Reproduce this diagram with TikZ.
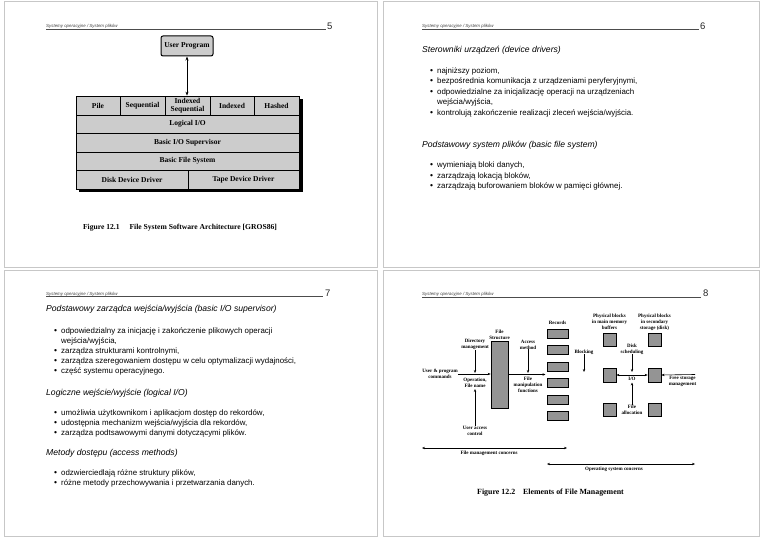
\documentclass[tikz,border=0pt]{standalone}
\usepackage{fontspec}
\setmainfont{Liberation Sans}
\newfontfamily\diagfont{Liberation Serif}
\usetikzlibrary{arrows.meta}
\begin{document}
\begin{tikzpicture}[x=1pt,y=-1pt,
  pageframe/.style={draw=black!22, line width=0.9pt},
  hdrtext/.style={font=\fontsize{4.4}{5}\selectfont\itshape, anchor=base west, inner sep=0, text=black!75},
  hdrline/.style={draw=black!70, line width=0.5pt},
  pagenum/.style={font=\fontsize{9.5}{10}\selectfont, anchor=base west, inner sep=0, text=black!85},
  stitle/.style={font=\fontsize{8.6}{10}\selectfont\itshape, anchor=base west, inner sep=0},
  body/.style={font=\fontsize{7.9}{10}\selectfont, anchor=base west, inner sep=0},
  bul/.style={font=\fontsize{8.5}{9}\selectfont, anchor=base west, inner sep=0},
  cell/.style={draw, fill=black!20, line width=0.7pt, inner sep=0, align=center,
    font=\diagfont\bfseries\fontsize{7.5}{7.8}\selectfont},
  gbox/.style={draw, fill=black!42, line width=0.7pt, inner sep=0},
  lbl/.style={inner sep=0, align=center, font=\diagfont\bfseries\fontsize{5}{6}\selectfont},
  arr/.style={-{Stealth[length=3pt,width=2.4pt]}, line width=0.6pt},
  darr/.style={{Stealth[length=3pt,width=2.4pt]}-{Stealth[length=3pt,width=2.4pt]}, line width=0.6pt},
  caption/.style={inner sep=0, font=\diagfont\bfseries\fontsize{7.6}{8}\selectfont}
]
\useasboundingbox (0,0) rectangle (760,537);
\fill[white] (0,0) rectangle (760,537);
% page frames
\draw[pageframe] (4,1) rectangle (377,267);
\draw[pageframe] (383,1) rectangle (759,267);
\draw[pageframe] (4,270) rectangle (377,536);
\draw[pageframe] (383,270) rectangle (759,536);

% headers
\node[hdrtext] (h5) at (46,28) {Systemy operacyjne / System plików};
\draw[hdrline] (46,29.3) -- (326,29.3);
\node[pagenum] (n5) at (327,29.5) {5};
\node[hdrtext] (h6) at (422,28) {Systemy operacyjne / System plików};
\draw[hdrline] (422,29.3) -- (699,29.3);
\node[pagenum] (n6) at (700,29.5) {6};
\node[hdrtext] (h7) at (46,295) {Systemy operacyjne / System plików};
\draw[hdrline] (46,296.3) -- (323,296.3);
\node[pagenum] (n7) at (325,296.5) {7};
\node[hdrtext] (h8) at (422,295.5) {Systemy operacyjne / System plików};
\draw[hdrline] (422,296.8) -- (701,296.8);
\node[pagenum] (n8) at (703,297) {8};

% ---------- slide 5 ----------
\node[draw, fill=black!20, line width=1pt, rounded corners=2pt, minimum width=52pt, minimum height=20pt, inner sep=0,
  font=\diagfont\bfseries\fontsize{7.5}{8}\selectfont] (up) at (187,46) {User Program};
\fill[black] (79,99) rectangle (302.5,192.5);
\node[cell, minimum width=44pt, minimum height=19pt] (pile) at (98,105.5) {Pile};
\node[cell, minimum width=45pt, minimum height=19pt] (seq) at (142.5,105.5) {Sequential};
\node[cell, minimum width=45pt, minimum height=19pt] (iseq) at (187.5,105.5) {Indexed\\Sequential};
\node[cell, minimum width=44pt, minimum height=19pt] (idx) at (232,105.5) {Indexed};
\node[cell, minimum width=45pt, minimum height=19pt] (hash) at (276.5,105.5) {Hashed};
\node[cell, minimum width=223pt, minimum height=18pt] (lio) at (187.5,124) {Logical I/O};
\node[cell, minimum width=223pt, minimum height=19pt] (bios) at (187.5,142.5) {Basic I/O Supervisor};
\node[cell, minimum width=223pt, minimum height=18pt] (bfs) at (187.5,161) {Basic File System};
\node[cell, minimum width=112pt, minimum height=19pt] (ddd) at (132,179.5) {Disk Device Driver};
\node[cell, minimum width=111pt, minimum height=19pt] (tdd) at (243.5,179.5) {Tape Device Driver};
\draw[{Stealth[length=4pt,width=3pt]}-{Stealth[length=4pt,width=3pt]}, line width=0.7pt] (up.south) -- (up.south |- iseq.north);
\node[caption] (cap5) at (180,228) {Figure 12.1\hspace{1.3em}File System Software Architecture [GROS86]};

% ---------- slide 6 ----------
\node[stitle] (s6t1) at (422,53) {Sterowniki urządzeń (device drivers)};
\node[bul] (s6b1) at (430,73.2) {•};
\node[body] (s6l1) at (437,73.2) {najniższy poziom,};
\node[bul] (s6b2) at (430,83.9) {•};
\node[body] (s6l2) at (437,83.9) {bezpośrednia komunikacja z urządzeniami peryferyjnymi,};
\node[bul] (s6b3) at (430,94.6) {•};
\node[body] (s6l3) at (437,94.6) {odpowiedzialne za inicjalizację operacji na urządzeniach};
\node[body] (s6l4) at (437,105) {wejścia/wyjścia,};
\node[bul] (s6b4) at (430,115.5) {•};
\node[body] (s6l5) at (437,115.5) {kontrolują zakończenie realizacji zleceń wejścia/wyjścia.};
\node[stitle] (s6t2) at (422,147.6) {Podstawowy system plików (basic file system)};
\node[bul] (s6b5) at (430,168) {•};
\node[body] (s6l6) at (437,168) {wymieniają bloki danych,};
\node[bul] (s6b6) at (430,178.5) {•};
\node[body] (s6l7) at (437,178.5) {zarządzają lokacją bloków,};
\node[bul] (s6b7) at (430,189) {•};
\node[body] (s6l8) at (437,189) {zarządzają buforowaniem bloków w pamięci głównej.};

% ---------- slide 7 ----------
\node[stitle] (s7t1) at (46,311.7) {Podstawowy zarządca wejścia/wyjścia (basic I/O supervisor)};
\node[bul] (s7b1) at (54,333.2) {•};
\node[body] (s7l1) at (61,333.2) {odpowiedzialny za inicjację i zakończenie plikowych operacji};
\node[body] (s7l2) at (61,343.2) {wejścia/wyjścia,};
\node[bul] (s7b2) at (54,353.2) {•};
\node[body] (s7l3) at (61,353.2) {zarządza strukturami kontrolnymi,};
\node[bul] (s7b3) at (54,363.2) {•};
\node[body] (s7l4) at (61,363.2) {zarządza szeregowaniem dostępu w celu optymalizacji wydajności,};
\node[bul] (s7b4) at (54,373.2) {•};
\node[body] (s7l5) at (61,373.2) {część systemu operacyjnego.};
\node[stitle] (s7t2) at (46,395.6) {Logiczne wejście/wyjście (logical I/O)};
\node[bul] (s7b5) at (54,415.5) {•};
\node[body] (s7l6) at (61,415.5) {umożliwia użytkownikom i aplikacjom dostęp do rekordów,};
\node[bul] (s7b6) at (54,425.5) {•};
\node[body] (s7l7) at (61,425.5) {udostępnia mechanizm wejścia/wyjścia dla rekordów,};
\node[bul] (s7b7) at (54,435.5) {•};
\node[body] (s7l8) at (61,435.5) {zarządza podtsawowymi danymi dotyczącymi plików.};
\node[stitle] (s7t3) at (46,455.5) {Metody dostępu (access methods)};
\node[bul] (s7b8) at (54,475.5) {•};
\node[body] (s7l9) at (61,475.5) {odzwierciedlają różne struktury plików,};
\node[bul] (s7b9) at (54,485.5) {•};
\node[body] (s7l10) at (61,485.5) {różne metody przechowywania i przetwarzania danych.};

% ---------- slide 8 ----------
\node[gbox, minimum width=17pt, minimum height=67pt] (fs) at (499.5,374.5) {};
\node[lbl] (fsl) at (499.5,334.5) {File\\Structure};
\node[lbl] (recl) at (557.5,323) {Records};
\node[gbox, minimum width=21pt, minimum height=9pt] (r1) at (557.5,333.5) {};
\node[gbox, minimum width=21pt, minimum height=9pt] (r2) at (557.5,350) {};
\node[gbox, minimum width=21pt, minimum height=9pt] (r3) at (557.5,366.5) {};
\node[gbox, minimum width=21pt, minimum height=9pt] (r4) at (557.5,383) {};
\node[gbox, minimum width=21pt, minimum height=9pt] (r5) at (557.5,399.5) {};
\node[gbox, minimum width=21pt, minimum height=9pt] (r6) at (557.5,416) {};
\node[lbl] (dirm) at (475,344.5) {Directory\\management};
\node[lbl] (accm) at (528,344.5) {Access\\method};
\node[lbl] (ucmd) at (440,374) {User \& program\\commands};
\node[lbl] (opfn) at (475,382.5) {Operation,\\File name};
\node[lbl] (fmf) at (528,384.5) {File\\manipulation\\functions};
\node[lbl] (uac) at (475,430.5) {User access\\control};
\coordinate (dirend) at (475,373);
\coordinate (accend) at (528,373);
\coordinate (uacend) at (475,389);
\coordinate (recin) at (545.5,374.5);
\draw[arr] (dirm.south) -- (dirend);
\draw[arr] (accm.south) -- (accend);
\draw[arr] (uac.north) -- (uacend);
\draw[arr] (ucmd.east) -- (ucmd.east -| fs.west);
\draw[arr] (fs.east) -- (recin);

\node[lbl] (pbm) at (609.5,322) {Physical blocks\\in main memory\\buffers};
\node[lbl] (pbs) at (654.5,322) {Physical blocks\\in secondary\\storage (disk)};
\node[gbox, minimum width=13pt, minimum height=13pt] (bt1) at (609.5,339.5) {};
\node[gbox, minimum width=13pt, minimum height=13pt] (bt2) at (654.5,339.5) {};
\node[gbox, minimum width=13pt, minimum height=14pt] (bm1) at (609.5,375) {};
\node[gbox, minimum width=13pt, minimum height=14pt] (bm2) at (654.5,375) {};
\node[gbox, minimum width=13pt, minimum height=13pt] (bb1) at (609.5,409.5) {};
\node[gbox, minimum width=13pt, minimum height=13pt] (bb2) at (654.5,409.5) {};
\node[lbl] (blk) at (584,352) {Blocking};
\node[lbl] (dsch) at (632,349) {Disk\\scheduling};
\node[lbl] (iol) at (632,378.8) {I/O};
\node[lbl] (falloc) at (632,410) {File\\allocation};
\node[lbl] (fsm) at (682.5,381.5) {Free storage\\management};
\coordinate (blkend) at (584,372);
\coordinate (dschend) at (632,372);
\coordinate (fallocend) at (632,382.5);
\coordinate (fsmstart) at (695,374.5);
\draw[arr] (blk.south) -- (blkend);
\draw[arr] (dsch.south) -- (dschend);
\draw[arr] (falloc.north) -- (fallocend);
\draw[darr] (bm1.east) -- (bm2.west);
\draw[arr] (fsmstart) -- (bm2.east);

\node[lbl] (fmc) at (489,453.5) {File management concerns};
\coordinate (fmcl) at (422,448);
\coordinate (fmcr) at (567,448);
\draw[darr] (fmcl) -- (fmcr);
\node[lbl] (osc) at (614,469.5) {Operating system concerns};
\coordinate (oscl) at (547,464);
\coordinate (oscr) at (695,464);
\draw[darr] (oscl) -- (oscr);
\node[caption, font=\diagfont\bfseries\fontsize{7.9}{9}\selectfont] (cap8) at (550.5,493) {Figure 12.2\hspace{1em}Elements of File Management};
\end{tikzpicture}
\end{document}
